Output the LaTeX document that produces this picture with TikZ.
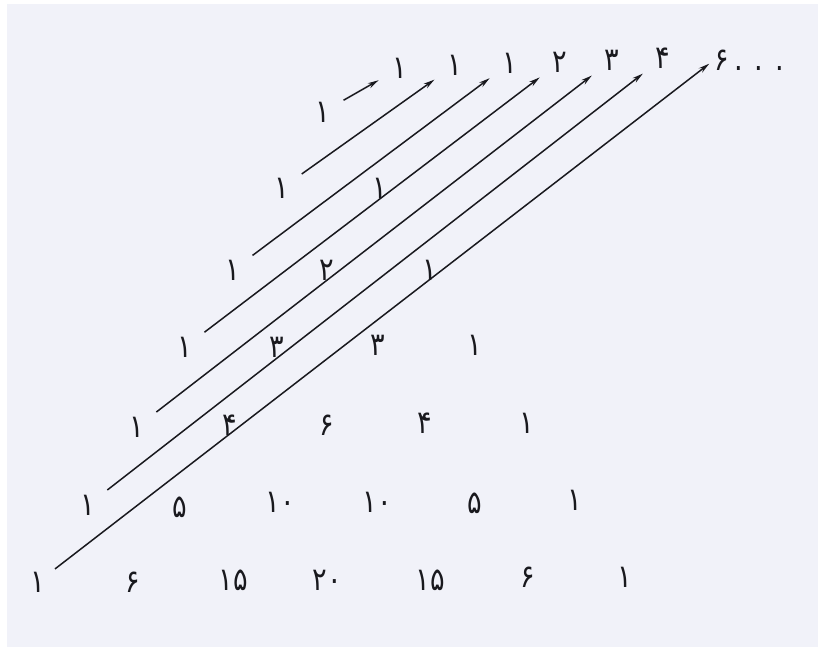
\documentclass[tikz,border=0pt]{standalone}
\usepackage{fontspec}
\newfontfamily\fa[FakeStretch=0.85]{DejaVu Sans}
\usetikzlibrary{arrows.meta}
\definecolor{paper}{RGB}{241,242,249}
\definecolor{ink}{RGB}{25,25,30}
\tikzset{
  num/.style={font=\fa\fontsize{32}{32}\selectfont, text=ink, inner sep=0pt},
  diag/.style={draw=ink, line width=1.5pt, -{Stealth[length=11pt,width=5.5pt]},
               shorten <=15pt, shorten >=16pt},
}
\begin{document}
\begin{tikzpicture}[x=1pt,y=-1pt]
\useasboundingbox (0,0) rectangle (818,647);
\fill[white] (0,0) rectangle (818,647);
\fill[paper] (7,4) rectangle (818,647);
% row 0
\node[num] (r0c0) at (323,112) {۱};
% row 1
\node[num] (r1c0) at (282,188) {۱};
\node[num] (r1c1) at (380,188) {۱};
% row 2
\node[num] (r2c0) at (233,270) {۱};
\node[num] (r2c1) at (327,270) {۲};
\node[num] (r2c2) at (430,270) {۱};
% row 3
\node[num] (r3c0) at (185,347) {۱};
\node[num] (r3c1) at (277,347) {۳};
\node[num] (r3c2) at (378,345) {۳};
\node[num] (r3c3) at (475,345) {۱};
% row 4
\node[num] (r4c0) at (137,427) {۱};
\node[num] (r4c1) at (230,425) {۴};
\node[num] (r4c2) at (327,425) {۶};
\node[num] (r4c3) at (425,423) {۴};
\node[num] (r4c4) at (527,423) {۱};
% row 5
\node[num] (r5c0) at (88,505) {۱};
\node[num] (r5c1) at (180,507) {۵};
\node[num] (r5c2) at (280,502) {۱۰};
\node[num] (r5c3) at (377,502) {۱۰};
\node[num] (r5c4) at (475,503) {۵};
\node[num] (r5c5) at (575,500) {۱};
% row 6
\node[num] (r6c0) at (38,582) {۱};
\node[num] (r6c1) at (133,582) {۶};
\node[num] (r6c2) at (233,580) {۱۵};
\node[num] (r6c3) at (327,580) {۲۰};
\node[num] (r6c4) at (430,580) {۱۵};
\node[num] (r6c5) at (528,577) {۶};
\node[num] (r6c6) at (625,577) {۱};
% top sums
\node[num] (t1) at (400,68) {۱};
\node[num] (t2) at (455,65) {۱};
\node[num] (t3) at (510,63) {۱};
\node[num] (t4) at (560,62) {۲};
\node[num] (t5) at (612,60) {۳};
\node[num] (t6) at (663,58) {۴};
\node[num, anchor=west] (t7) at (714,60) {۶\hspace{6pt}. . .};
% diagonals
\draw[diag] (r0c0) -- (t1);
\draw[diag] (r1c0) -- (t2);
\draw[diag] (r2c0) -- (t3);
\draw[diag] (r3c0) -- (t4);
\draw[diag] (r4c0) -- (t5);
\draw[diag] (r5c0) -- (t6);
\draw[diag, shorten <=12pt, shorten >=6pt] (r6c0) -- (t7.west);
\end{tikzpicture}
\end{document}
